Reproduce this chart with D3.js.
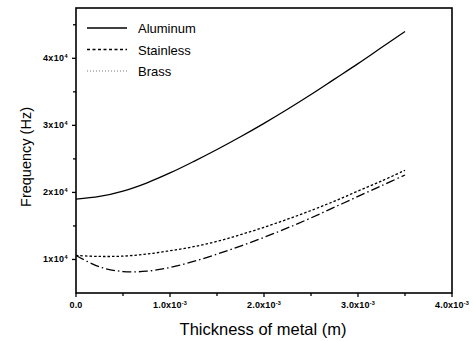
<!DOCTYPE html>
<html>
<head>
<meta charset="utf-8">
<script src="https://cdn.jsdelivr.net/npm/d3@7"></script>
<style>
  body { margin: 0; background: #fff; }
  text { font-family: "Liberation Sans", Arial, sans-serif; fill: #000; }
</style>
</head>
<body>
<script>
// thickness of metal (m)
var thickness = [0, 0.25e-3, 0.5e-3, 0.75e-3, 1.0e-3, 1.25e-3, 1.5e-3, 1.75e-3,
                 2.0e-3, 2.25e-3, 2.5e-3, 2.75e-3, 3.0e-3, 3.25e-3, 3.5e-3];
// frequency (Hz)
var aluminum  = [19000, 19400, 20200, 21400, 22900, 24600, 26400, 28300,
                 30300, 32400, 34600, 36900, 39200, 41600, 44000];
var stainless = [10600, 10450, 10500, 10800, 11300, 11900, 12700, 13700,
                 14800, 16000, 17300, 18700, 20200, 21700, 23300];
var brass     = [10600, 8900, 8200, 8250, 8800, 9700, 10800, 12000,
                 13300, 14700, 16200, 17800, 19400, 21000, 22600];
var seriesNames = ["Aluminum", "Stainless", "Brass"];
var xTicks = [0, 1e-3, 2e-3, 3e-3, 4e-3];
var xTickLabels = [["0.0", ""], ["1.0x10", "-3"], ["2.0x10", "-3"], ["3.0x10", "-3"], ["4.0x10", "-3"]];
var yTicks = [10000, 20000, 30000, 40000];
var yTickLabels = [["1x10", "4"], ["2x10", "4"], ["3x10", "4"], ["4x10", "4"]];

var W = 473, H = 341;
var svg = d3.select("body").append("svg").attr("width", W).attr("height", H);

var x = d3.scaleLinear().domain([0, 4e-3]).range([76, 452]);
var y = d3.scaleLinear().domain([5000, 47500]).range([293, 8]);

// frame
svg.append("rect")
    .attr("x", 76).attr("y", 8)
    .attr("width", 376).attr("height", 285)
    .attr("fill", "none").attr("stroke", "#000").attr("stroke-width", 1.6);

// x axis ticks
var xMinor = d3.range(0, 4.01e-3, 0.5e-3);
svg.selectAll(".xt").data(xMinor).enter().append("line")
    .attr("x1", function(d) { return x(d); }).attr("x2", function(d) { return x(d); })
    .attr("y1", 293).attr("y2", function(d, i) { return i % 2 == 0 ? 297 : 296; })
    .attr("stroke", "#000").attr("stroke-width", 1.3);

svg.selectAll(".xl").data(xTicks).enter().append("text")
    .attr("x", function(d) { return x(d); })
    .attr("y", 308)
    .attr("text-anchor", "middle")
    .style("font-size", "9px").style("font-weight", "bold").style("letter-spacing", "0.2px")
    .each(function(d, i) {
        var t = d3.select(this);
        t.append("tspan").text(xTickLabels[i][0]);
        if (xTickLabels[i][1]) {
            t.append("tspan").attr("dy", -3.5).style("font-size", "5.5px").text(xTickLabels[i][1]);
        }
    });

// y axis ticks
var yMinor = d3.range(10000, 47000, 5000);
svg.selectAll(".yt").data(yMinor).enter().append("line")
    .attr("x1", function(d, i) { return i % 2 == 0 ? 72 : 73; }).attr("x2", 76)
    .attr("y1", function(d) { return y(d); }).attr("y2", function(d) { return y(d); })
    .attr("stroke", "#000").attr("stroke-width", 1.3);

svg.selectAll(".yl").data(yTicks).enter().append("text")
    .attr("x", 68)
    .attr("y", function(d) { return y(d) + 3; })
    .attr("text-anchor", "end")
    .style("font-size", "9px").style("font-weight", "bold").style("letter-spacing", "0.4px")
    .each(function(d, i) {
        var t = d3.select(this);
        t.append("tspan").text(yTickLabels[i][0]);
        t.append("tspan").attr("dy", -3.5).style("font-size", "5.5px").text(yTickLabels[i][1]);
    });

// axis titles
svg.append("text")
    .attr("x", 263).attr("y", 335)
    .attr("text-anchor", "middle")
    .style("font-size", "16.5px")
    .text("Thickness of metal (m)");

svg.append("text")
    .attr("transform", "translate(31,157) rotate(-90)")
    .attr("text-anchor", "middle")
    .style("font-size", "14.5px")
    .text("Frequency (Hz)");

// curves
var line = d3.line()
    .x(function(d) { return x(d[0]); })
    .y(function(d) { return y(d[1]); })
    .curve(d3.curveCatmullRom);

function pts(vals) { return thickness.map(function(t, i) { return [t, vals[i]]; }); }

svg.append("path").attr("d", line(pts(aluminum)))
    .attr("fill", "none").attr("stroke", "#000").attr("stroke-width", 1.3);
svg.append("path").attr("d", line(pts(stainless)))
    .attr("fill", "none").attr("stroke", "#000").attr("stroke-width", 1.3)
    .attr("stroke-dasharray", "2.5,2");
svg.append("path").attr("d", line(pts(brass)))
    .attr("fill", "none").attr("stroke", "#000").attr("stroke-width", 1.3)
    .attr("stroke-dasharray", "9,3,1.5,3");

// legend
var legendStyles = [
    { dash: null, color: "#000", w: 1.4 },
    { dash: "3,2.5", color: "#000", w: 1.3 },
    { dash: "1,2", color: "#777", w: 1 }
];
var lg = svg.selectAll(".lg").data(seriesNames).enter().append("g")
    .attr("transform", function(d, i) { return "translate(0," + (28 + i * 21.5) + ")"; });
lg.append("line")
    .attr("x1", 87).attr("x2", 127).attr("y1", 0).attr("y2", 0)
    .attr("stroke", function(d, i) { return legendStyles[i].color; })
    .attr("stroke-width", function(d, i) { return legendStyles[i].w; })
    .attr("stroke-dasharray", function(d, i) { return legendStyles[i].dash; });
lg.append("text")
    .attr("x", 138).attr("y", 5)
    .style("font-size", "13px")
    .text(function(d) { return d; });
</script>
</body>
</html>
